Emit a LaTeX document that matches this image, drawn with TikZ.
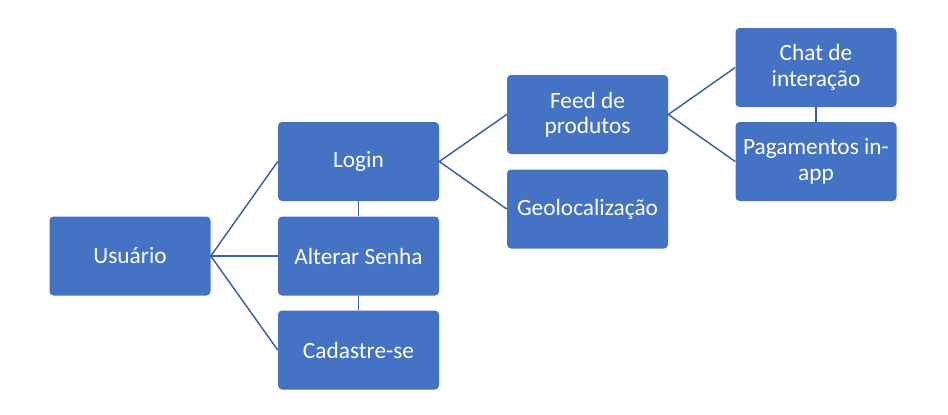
\documentclass[tikz,border=0pt]{standalone}
\usepackage{fontspec}
\setmainfont{Carlito}
\definecolor{boxblue}{HTML}{4472C4}
\definecolor{linkblue}{HTML}{3B5FA6}

\begin{document}
\begin{tikzpicture}[x=0.75pt,y=-0.75pt,
	item/.style={draw=none,fill=boxblue,rounded corners=3pt,minimum width=120.75pt,minimum height=59.25pt,
		text=white,font=\fontsize{17.5}{19}\selectfont,align=center,inner sep=2pt},
	link/.style={draw=linkblue,line width=1.1pt}]
	\useasboundingbox (0,0) rectangle (948,414);

	% first level
	\node[item] (usuario) at (130,256) {Usuário};

	% second level
	\node[item] (login) at (358.5,161.5) {Login};
	\node[item] (senha) at (358.5,256) {Alterar Senha};
	\node[item] (cadastro) at (358.5,350) {Cadastre-se};

	% third level
	\node[item] (feed) at (587.5,114.5) {Feed de\\produtos};
	\node[item] (geo) at (587.5,209) {Geolocalização};

	% fourth level
	\node[item] (chat) at (816,67.5) {Chat de\\interação};
	\node[item] (pagamento) at (816,161.5) {Pagamentos in-\\app};

	% links
	\draw[link] (login.west) -- (usuario.east) -- (cadastro.west);
	\draw[link] (usuario.east) -- (senha.west);
	\draw[link] (login.south) -- (senha.north);
	\draw[link] (senha.south) -- (cadastro.north);
	\draw[link] (feed.west) -- (login.east) -- (geo.west);
	\draw[link] (chat.west) -- (feed.east) -- (pagamento.west);
	\draw[link] (chat.south) -- (pagamento.north);

\end{tikzpicture}
\end{document}
